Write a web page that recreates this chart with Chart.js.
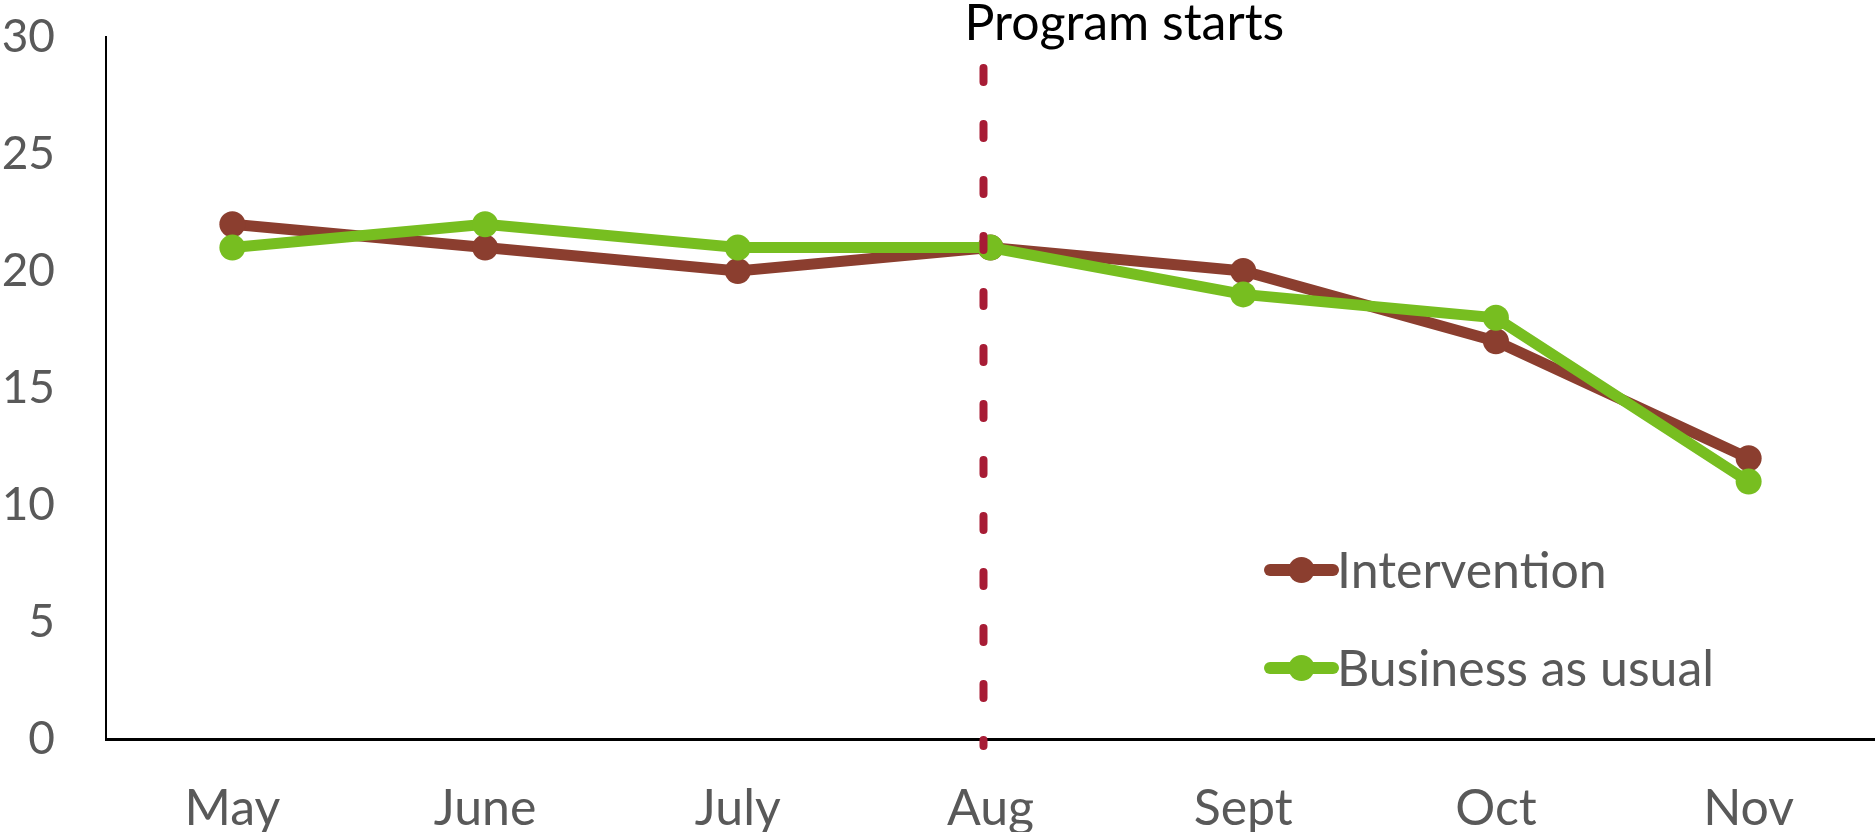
<!DOCTYPE html>
<html>
<head>
<meta charset="utf-8">
<script src="https://cdn.jsdelivr.net/npm/chart.js@4.4.1/dist/chart.umd.min.js"></script>
<style>
  html, body { margin: 0; padding: 0; background: #fff; }
  .chart-container { position: relative; width: 1875px; height: 832px; }
</style>
</head>
<body>
<div class="chart-container"><canvas id="programChart"></canvas></div>
<script>
const months = ["May", "June", "July", "Aug", "Sept", "Oct", "Nov"];
const intervention = [22, 21, 20, 21, 20, 17, 12];
const businessAsUsual = [21, 22, 21, 21, 19, 18, 11];
const yTicks = [0, 5, 10, 15, 20, 25, 30];
const programStartMonth = "Aug";
const programLabel = "Program starts";

const brown = "#8B3E2F";
const green = "#77BE20";
const markerColor = "#A71C35";
const font = "Lato, 'Open Sans', sans-serif";

// dashed marker + caption for the program start, plus a legend inside the plot
const overlayPlugin = {
  id: "overlay",
  afterDatasetsDraw(chart) {
    const ctx = chart.ctx;
    const x = chart.scales.x.getPixelForValue(months.indexOf(programStartMonth)) - 7;
    const area = chart.chartArea;

    ctx.save();
    ctx.strokeStyle = markerColor;
    ctx.lineWidth = 8;
    ctx.lineCap = "round";
    ctx.setLineDash([14, 42]);
    ctx.beginPath();
    ctx.moveTo(x, area.top + 31);
    ctx.lineTo(x, area.bottom + 7);
    ctx.stroke();
    ctx.setLineDash([]);

    ctx.fillStyle = "#000";
    ctx.font = "50px " + font;
    ctx.textAlign = "left";
    ctx.textBaseline = "alphabetic";
    ctx.fillText(programLabel, x - 19, area.top + 3);

    // legend
    const items = chart.data.datasets;
    const lx = 1270, lw = 63;
    const rows = [570, 668];
    items.forEach(function (ds, i) {
      const y = rows[i];
      ctx.strokeStyle = ds.borderColor;
      ctx.lineWidth = 12;
      ctx.beginPath();
      ctx.moveTo(lx, y);
      ctx.lineTo(lx + lw, y);
      ctx.stroke();
      ctx.fillStyle = ds.borderColor;
      ctx.beginPath();
      ctx.arc(lx + lw / 2, y, 13, 0, Math.PI * 2);
      ctx.fill();
      ctx.fillStyle = "#595959";
      ctx.font = "50px " + font;
      ctx.textBaseline = "middle";
      ctx.fillText(ds.label, lx + lw + 4, y + 2);
    });
    ctx.restore();
  },
};

document.addEventListener("DOMContentLoaded", function () {
  const ctx = document.getElementById("programChart").getContext("2d");
  new Chart(ctx, {
    type: "line",
    data: {
      labels: months,
      datasets: [
        {
          label: "Intervention",
          data: intervention,
          borderColor: brown,
          backgroundColor: brown,
          borderWidth: 11,
          pointRadius: 13,
          pointBackgroundColor: brown,
          pointBorderWidth: 0,
          tension: 0,
          order: 2,
        },
        {
          label: "Business as usual",
          data: businessAsUsual,
          borderColor: green,
          backgroundColor: green,
          borderWidth: 11,
          pointRadius: 13,
          pointBackgroundColor: green,
          pointBorderWidth: 0,
          tension: 0,
          order: 1,
        },
      ],
    },
    options: {
      responsive: true,
      maintainAspectRatio: false,
      animation: false,
      layout: { autoPadding: false, padding: { top: 37, right: 0, left: 0, bottom: 0 } },
      plugins: {
        legend: { display: false },
        tooltip: { enabled: false },
      },
      scales: {
        x: {
          offset: true,
          grid: { display: false, drawTicks: false },
          border: { display: true, color: "#000", width: 3 },
          ticks: {
            color: "#595959",
            font: { size: 50, family: font },
            padding: 40,
            maxRotation: 0,
          },
          afterFit: function (scale) {
            scale.height = 93;
          },
        },
        y: {
          min: yTicks[0],
          max: yTicks[yTicks.length - 1],
          grid: { display: false, drawTicks: false },
          border: { display: true, color: "#000", width: 2 },
          afterBuildTicks: function (scale) {
            scale.ticks = yTicks.map(function (v) { return { value: v }; });
          },
          ticks: {
            color: "#595959",
            font: { size: 46, family: font },
            padding: 51,
          },
          afterFit: function (scale) {
            scale.width = 106;
            scale.paddingTop = 0;
            scale.paddingBottom = 0;
          },
        },
      },
    },
    plugins: [overlayPlugin],
  });
});
</script>
</body>
</html>
